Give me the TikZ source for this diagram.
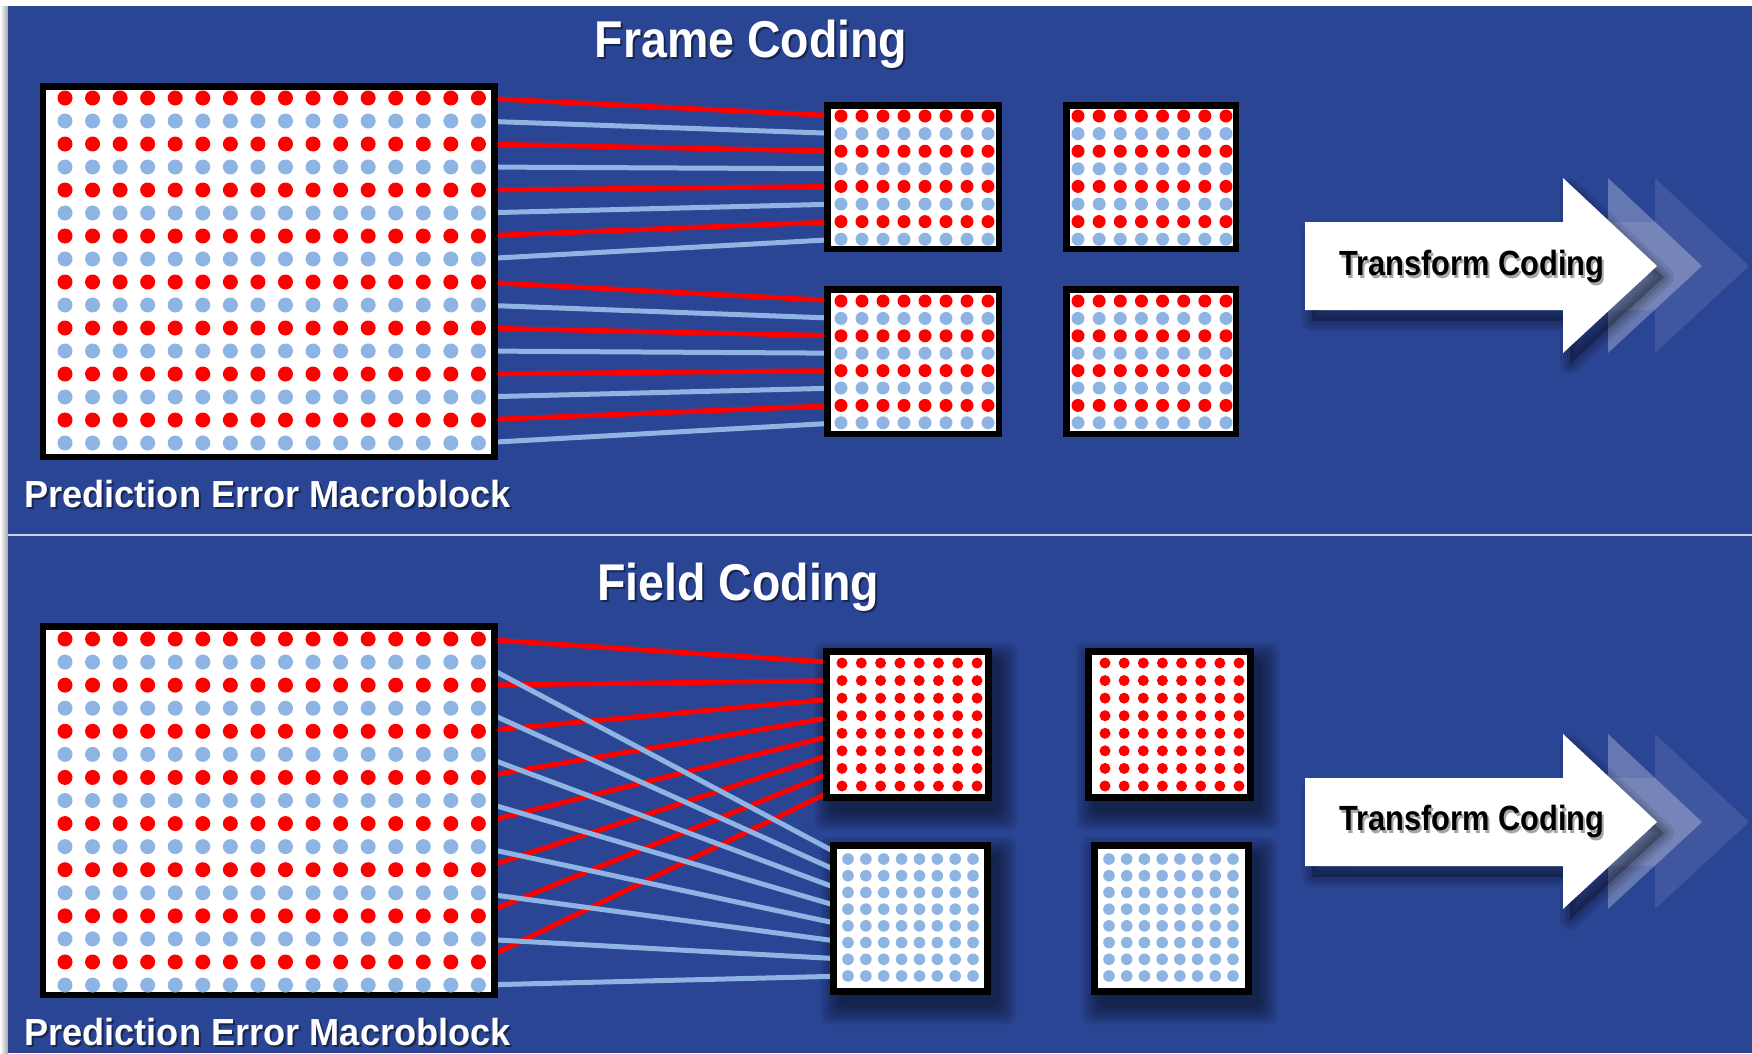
\documentclass[tikz,border=0pt]{standalone}
\usepackage{fontspec}
\newfontfamily\cond[FakeStretch=0.88]{Liberation Sans}
\newfontfamily\condt[FakeStretch=0.90]{Liberation Sans}
\newfontfamily\condw[FakeStretch=0.96]{Liberation Sans}
\definecolor{bgblue}{RGB}{43,69,149}
\definecolor{dred}{RGB}{255,0,0}
\definecolor{dblue}{RGB}{141,180,226}
\definecolor{sepcol}{RGB}{205,210,230}
\pgfdeclarelayer{back}
\pgfdeclarelayer{mid}
\pgfsetlayers{back,mid,main}
\tikzset{
  blk/.style={draw=black, line width=6.5pt, fill=white, inner sep=0pt, rectangle},
  fblk/.style={draw=black, line width=7pt, fill=white, inner sep=0pt, rectangle},
  redln/.style={draw=dred, line width=5pt},
  bluln/.style={draw=dblue, line width=5pt},
  ttl/.style={text=white, font=\condt\bfseries\fontsize{51.7}{60}\selectfont, inner sep=0pt},
  mblabel/.style={text=white, font=\condw\bfseries\fontsize{37.7}{44}\selectfont, inner sep=0pt},
  tclabel/.style={text=black, font=\cond\bfseries\fontsize{35}{40}\selectfont, inner sep=0pt},
  txtshadow/.style={text=black, text opacity=0.45},
}
% x0, dx, y0, dy, last col, last row, radius, even colour, odd colour
\newcommand\drawdots[9]{%
  \foreach \rr in {0,...,#6}{%
    \pgfmathtruncatemacro\rp{mod(\rr,2)}%
    \ifnum\rp=0 \def\dc{#8}\else\def\dc{#9}\fi
    \foreach \cc in {0,...,#5}{%
      \fill[\dc] ({#1+#2*\cc},{#3+#4*\rr}) circle[radius=#7];
    }}}
% soft shadow of a box: x1,y1,x2,y2
\newcommand\softshadow[4]{%
  \foreach \k in {0,...,7}{%
    \fill[black, opacity=0.07, rounded corners=8pt]
      ({#1+8-\k*2.5},{#2+12-\k*2.5}) rectangle ({#3+8+\k*2.5},{#4+12+\k*2.5});
  }}
\def\arrowshape{(1305,222) -- (1563,222) -- (1563,178) -- (1657,266) -- (1563,353) -- (1563,310) -- (1305,310) -- cycle}
\newcommand\bigarrow[1]{%
  \begin{scope}[shift={(0,#1)}]
    \fill[white, opacity=0.10, shift={(92,0)}] \arrowshape;
    \fill[white, opacity=0.28, shift={(45,0)}] \arrowshape;
    \foreach \w in {20,13,7}{%
      \filldraw[black, opacity=0.09, line width=\w pt, line join=round, shift={(7,11)}] \arrowshape;
    }
    \fill[white] \arrowshape;
  \end{scope}}
\begin{document}
\begin{tikzpicture}[x=1pt, y=-1pt]
\useasboundingbox (0,0) rectangle (1752,1053);
\begin{pgfonlayer}{back}
  \fill[white] (0,0) rectangle (1752,1053);
  \shade[left color=white, right color=black!35] (0,6) rectangle (8,1053);
  \fill[bgblue] (8,6) rectangle (1752,1053);
  \draw[sepcol, line width=2pt] (8,535) -- (1752,535);
\end{pgfonlayer}

% ---------------- Frame coding ----------------
\node[ttl, txtshadow, anchor=base] (ttlFs) at (753,59) {Frame Coding};
\node[ttl, anchor=base] (ttlF) at (751,57) {Frame Coding};

\node[blk, minimum width=451.5, minimum height=370.5] (tbig) at (268.5,271.5) {};
\node[blk, minimum width=171.5, minimum height=143.5] (t1) at (913,177) {};
\node[blk, minimum width=169.5, minimum height=143.5] (t2) at (1151,177) {};
\node[blk, minimum width=171.5, minimum height=144.5] (t3) at (913,361.5) {};
\node[blk, minimum width=169.5, minimum height=144.5] (t4) at (1151,361.5) {};

\begin{pgfonlayer}{mid}
  \foreach \r in {0,...,7}{%
    \pgfmathtruncatemacro\rp{mod(\r,2)}
    \coordinate (ta\r) at (478,{98+23*\r});
    \coordinate (tb\r) at (841,{116+17.6*\r});
    \ifnum\rp=0 \draw[redln] (ta\r) -- (tb\r); \else \draw[bluln] (ta\r) -- (tb\r); \fi
  }
  \foreach \r in {8,...,15}{%
    \pgfmathtruncatemacro\rp{mod(\r,2)}
    \coordinate (ta\r) at (478,{98+23*\r});
    \coordinate (tb\r) at (841,{301+17.4*(\r-8)});
    \ifnum\rp=0 \draw[redln] (ta\r) -- (tb\r); \else \draw[bluln] (ta\r) -- (tb\r); \fi
  }
\end{pgfonlayer}

\drawdots{65}{27.56}{98}{23}{15}{15}{7.5}{dred}{dblue}
\drawdots{841}{21}{116}{17.6}{7}{7}{6.5}{dred}{dblue}
\drawdots{1078}{21.14}{116}{17.6}{7}{7}{6.5}{dred}{dblue}
\drawdots{841}{21}{301}{17.4}{7}{7}{6.5}{dred}{dblue}
\drawdots{1078}{21.14}{301}{17.4}{7}{7}{6.5}{dred}{dblue}

\node[mblabel, txtshadow, anchor=base west] (mbl1s) at (26,509) {Prediction Error Macroblock};
\node[mblabel, anchor=base west] (mbl1) at (24,507) {Prediction Error Macroblock};

\bigarrow{0}
\node[tclabel, text=black, text opacity=0.35, anchor=base] (tc1s) at (1474,278) {Transform Coding};
\node[tclabel, anchor=base] (tc1) at (1472,275) {Transform Coding};

% ---------------- Field coding ----------------
\node[ttl, txtshadow, anchor=base] (ttlGs) at (740,602) {Field Coding};
\node[ttl, anchor=base] (ttlG) at (738,600) {Field Coding};

\node[blk, minimum width=451.5, minimum height=368.5] (fbig) at (268.5,810.5) {};
\node[fblk, minimum width=162, minimum height=146] (fa) at (907.5,724.5) {};
\node[fblk, minimum width=162, minimum height=146] (fb) at (1169.5,724.5) {};
\node[fblk, minimum width=154, minimum height=146] (fc) at (910.5,918.5) {};
\node[fblk, minimum width=154, minimum height=146] (fd) at (1171.5,918.5) {};

\begin{pgfonlayer}{mid}
  \softshadow{823}{648}{992}{801}
  \softshadow{1085}{648}{1254}{801}
  \softshadow{830}{842}{991}{995}
  \softshadow{1091}{842}{1252}{995}
  \foreach \k in {0,...,7}{%
    \coordinate (fr\k) at (478,{639+23.07*2*\k});
    \coordinate (fra\k) at (842,{663+17.57*\k});
    \draw[redln] (fr\k) -- (fra\k);
  }
  \foreach \k in {0,...,7}{%
    \coordinate (fl\k) at (478,{639+23.07*(2*\k+1)});
    \coordinate (flc\k) at (848,{859+16.71*\k});
    \draw[bluln] (fl\k) -- (flc\k);
  }
\end{pgfonlayer}

\drawdots{65}{27.56}{639}{23.07}{15}{15}{7.5}{dred}{dblue}
\drawdots{842}{19.29}{663}{17.57}{7}{7}{5.5}{dred}{dred}
\drawdots{1105}{19.14}{663}{17.57}{7}{7}{5.5}{dred}{dred}
\drawdots{848}{17.86}{859}{16.71}{7}{7}{5.8}{dblue}{dblue}
\drawdots{1109}{17.71}{859}{16.71}{7}{7}{5.8}{dblue}{dblue}

\node[mblabel, txtshadow, anchor=base west] (mbl2s) at (26,1047) {Prediction Error Macroblock};
\node[mblabel, anchor=base west] (mbl2) at (24,1045) {Prediction Error Macroblock};

\bigarrow{556}
\node[tclabel, text=black, text opacity=0.35, anchor=base] (tc2s) at (1474,833) {Transform Coding};
\node[tclabel, anchor=base] (tc2) at (1472,830) {Transform Coding};
\end{tikzpicture}
\end{document}
